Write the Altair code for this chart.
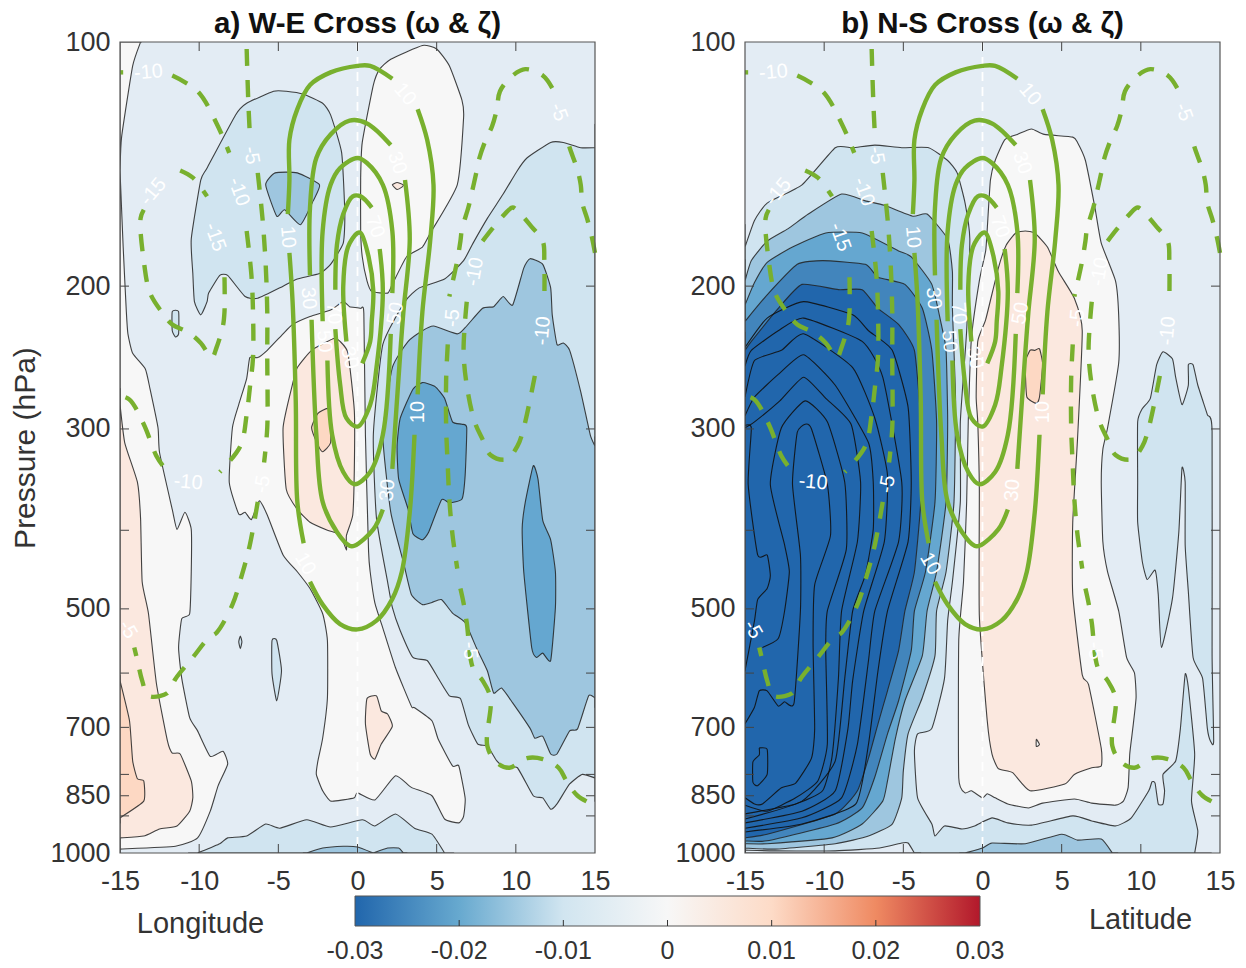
import altair as alt
import pandas as pd

X_TICKS = [-15, -10, -5, 0, 5, 10, 15]
P_TICKS = [100, 200, 300, 400, 500, 600, 700, 800, 850, 900, 1000]
P_LABELS = [100, 200, 300, 500, 700, 850, 1000]
LEVELS = [-0.03, -0.025, -0.02, -0.015, -0.01, -0.005, 0.0, 0.005, 0.01]
COLORS = ["#2166AC", "#4285BC", "#65A7D0", "#9EC6DF", "#D0E4F0", "#E3ECF4", "#F7F7F7", "#FBE8DF", "#FDD8C3"]
CB_TICKS = [-0.03, -0.02, -0.01, 0.0, 0.01, 0.02, 0.03]
CB_TEXT = ["-0.03", "-0.02", "-0.01", "0", "0.01", "0.02", "0.03"]
CB_COLORS = ["#2166AC", "#67A9CF", "#D1E5F0", "#F7F7F7", "#FDDBC7", "#EF8A62", "#B2182B"]
FRAME = [(-15, 15, 100, 1000)]

# ---------- panel a: shading (lon, hPa) ----------
a_left_white = [(-15,100),(-13.7,100),(-14.2,107),(-14.9,131),(-15,144),(-14.8,179),(-14.6,215),(-14.5,229),(-14.2,242),(-13.4,253),(-13.1,268),(-12.6,299),(-12.5,321),(-11.7,377),(-11.4,399),(-10.9,380),(-10.5,399),(-10.5,450),(-10.6,507),(-11.1,514),(-11.3,558),(-11.1,609),(-10.6,681),(-10.1,707),(-9.3,760),(-8.5,749),(-8.2,777),(-8.8,826),(-9.3,888),(-10.1,958),(-11.5,981),(-15,989)]
a_left_orange = [(-15,280),(-14.7,312),(-13.9,349),(-13.7,387),(-13.6,463),(-13.2,507),(-12.7,618),(-12,728),(-11.7,753),(-11.2,755),(-10.5,815),(-10.4,855),(-10.6,888),(-11.4,926),(-12.5,934),(-13.5,953),(-15,958)]
a_left_peach = [(-15,613),(-14.4,687),(-14.2,770),(-13.9,810),(-13.5,815),(-13.5,863),(-15,905)]
a_top_white = [(1.4,108),(2.1,105),(4.1,101),(5,102),(5.8,107),(6.6,118),(6.7,124),(6.3,150),(4.6,172),(4.1,179),(3.1,184),(2.2,199),(1.9,204),(0.9,203),(0.6,197),(0.3,184),(0.2,171),(0.2,147),(0.3,133),(1,113)]
a_top_dot = [(2.2,150),(2.5,149),(2.9,150),(2.8,151),(2.5,152)]
a_nw_blue = [(-5.3,115),(-7,119),(-7.7,123),(-9.5,143),(-9.9,148),(-10.5,175),(-10.4,193),(-10.3,209),(-9.9,217),(-9.5,209),(-9.4,204),(-8.7,194),(-8.2,194),(-7.1,206),(-6.3,207),(-4.7,200),(-3.8,196),(-2.4,193),(-1.7,188),(-0.9,177),(-0.8,163),(-1,137),(-1.7,123),(-2.2,119),(-3.4,116),(-4.5,115)]
a_nw_core = [(-5.8,150),(-5.2,145),(-3.8,145),(-2.4,150),(-2.8,157),(-3.6,168),(-4.6,161),(-5.1,164)]
a_islet1 = [(-11.7,215),(-11.3,215),(-11.3,229),(-11.5,231),(-11.7,227)]
a_islet2 = [(-5.4,547),(-5.1,547),(-4.8,596),(-5.1,649),(-5.4,601)]
a_islet3 = [(-7.4,540),(-7.3,549),(-7.4,560),(-7.5,549)]
a_mid_white = [(-6.8,245),(-6.3,245),(-5.7,240),(-4.7,229),(-4.1,223),(-3,218),(-1.7,214),(-0.9,209),(-0.5,212),(0.2,213),(0.4,216),(0.5,305),(0.7,425),(0.8,450),(1.1,492),(1.6,528),(2.4,591),(3.4,659),(3.6,662),(4.7,687),(5.1,724),(6,781),(6.4,781),(6.8,856),(6.7,901),(6.4,918),(5.5,908),(4.7,850),(3.4,830),(2.4,803),(1.1,860),(0,843),(-0.2,855),(-0.9,860),(-1.7,863),(-2.2,838),(-2.6,800),(-2.5,770),(-2.2,722),(-1.9,644),(-1.9,547),(-2.2,507),(-3,472),(-3.8,450),(-4.7,429),(-5.7,383),(-6.2,368),(-6.7,388),(-7.1,380),(-7.5,382),(-8.1,349),(-7.9,299),(-7.5,280),(-7,260)]
a_mid_orange = [(-1.5,232),(-2.9,240),(-3.8,252),(-4.1,264),(-4.7,299),(-4.5,356),(-3.8,377),(-3,391),(-1.9,400),(-1.1,405),(-0.7,423),(-0.7,406),(-0.3,383),(-0.2,336),(-0.2,285),(-0.6,242),(-1.1,234)]
a_mid_peach = [(-1.9,283),(-2.5,287),(-2.9,299),(-2.5,314),(-2.2,320),(-1.7,312),(-1.7,288)]
a_low_orange = [(0.6,645),(1.2,640),(1.5,668),(1.9,674),(2.2,698),(1.5,734),(1.1,766),(0.8,755),(0.5,693)]
a_east_blue = [(15,135),(14.1,135),(13,133),(12.2,133),(10.7,139),(10.1,144),(9.2,154),(8.2,165),(7.3,177),(6.7,186),(5.5,196),(3.9,201),(3,209),(1.6,236),(1,305),(1.2,387),(1.9,463),(2.2,498),(2.7,532),(3.5,574),(4.4,579),(5.1,609),(5.8,640),(6.5,645),(7,695),(7.6,734),(8.2,738),(8.8,770),(9.4,787),(10.1,785),(11.1,850),(11.7,855),(12.2,883),(12.6,870),(13.4,822),(14.2,800),(15,808)]
a_east_mid = [(6.3,229),(4.8,224),(4.1,227),(3.2,234),(2.2,252),(1.6,305),(2.1,380),(2.9,438),(3.4,480),(4.1,494),(4.7,491),(5.3,487),(6,506),(6.8,520),(7.5,558),(8.2,596),(8.6,635),(9.1,626),(9.8,653),(10.9,702),(11.2,722),(11.7,718),(12.2,755),(12.6,755),(13.4,707),(13.9,703),(14.6,640),(15,644),(15,315),(14.7,305),(14.1,270),(13.4,240),(13,235),(12.6,236),(12.3,217),(12.2,201),(11.7,188),(10.9,185),(10.5,190),(9.8,211),(9.2,206),(8.6,212),(7.9,213),(6.8,225)]
a_east_core1 = [(4.1,263),(4.9,266),(5.5,275),(6,294),(6.6,296),(6.9,299),(6.8,342),(6.6,366),(5.8,370),(5.3,367),(4.5,402),(4.1,411),(3.5,404),(3.2,377),(2.6,346),(2.5,315),(2.7,291),(3.5,268)]
a_east_core2 = [(11.1,333),(11.4,346),(11.7,389),(12.2,411),(12.5,450),(12.5,498),(12.2,579),(11.7,567),(11.3,574),(11,558),(10.5,450),(10.4,398),(10.6,369)]
a_bot_blue = [(-10.1,1000),(-8.7,974),(-8.2,958),(-7,953),(-5.8,921),(-4.9,932),(-3.2,910),(-1.7,929),(0.3,910),(1.1,926),(2.4,895),(3.6,932),(4.7,948),(5.5,1000)]
a_bot_core = [(-3.2,1000),(-2.2,986),(-0.9,981),(0,983),(1,1000),(1.9,986),(2.6,986),(2.9,1000)]

POLYS_A = [(0.0,a_left_white),(0.005,a_left_orange),(0.01,a_left_peach),(0.0,a_top_white),(0.005,a_top_dot),
           (-0.01,a_nw_blue),(-0.015,a_nw_core),(-0.01,a_islet1),(-0.01,a_islet2),(-0.01,a_islet3),
           (0.0,a_mid_white),(0.005,a_mid_orange),(0.01,a_mid_peach),(0.005,a_low_orange),
           (-0.01,a_east_blue),(-0.015,a_east_mid),(-0.02,a_east_core1),(-0.02,a_east_core2),(-0.01,a_bot_blue),(-0.015,a_bot_core)]

# ---------- panel b ----------
b_d0 = [(-15,179),(-14.4,166),(-13.6,158),(-11.4,150),(-9.3,135),(-8.2,135),(-6.8,134),(-5.1,135),(-3.4,135),(-2.2,140),(-1.6,145),(-1.1,158),(-0.8,175),(-1,227),(-1.4,294),(-1.4,369),(-1.9,463),(-2.2,517),(-2.4,609),(-3.2,702),(-4.1,713),(-4.3,749),(-4.1,855),(-3.2,921),(-3,953),(-2.4,926),(-1.3,934),(-0.5,926),(0.6,905),(1.6,918),(3.1,924),(5.7,900),(6.9,913),(8.4,926),(9.4,905),(10.5,838),(10.7,817),(10.9,820),(11.1,870),(11.4,870),(11.5,838),(11.4,800),(12.2,770),(12.5,702),(12.8,602),(13,625),(13.4,755),(13.2,863),(13.6,940),(13.4,1000),(-15,1000)]
b_white = [(3.1,128),(2.2,130),(1.4,132),(0.8,140),(0.5,148),(0.3,170),(0.2,181),(-0.2,197),(-0.7,232),(-0.9,294),(-1,369),(-1.2,463),(-1.5,547),(-1.5,808),(-1.1,843),(-0.7,838),(0,855),(0.3,845),(0.8,855),(1.6,870),(2.9,880),(3.8,868),(5.8,858),(6.9,868),(8.4,873),(8.9,863),(9.2,830),(9.3,755),(9.5,700),(9.7,643),(9.6,600),(9.1,574),(8.6,503),(7.9,450),(7.6,413),(7.5,349),(7.6,318),(7.9,299),(8.6,249),(8.6,217),(8.4,197),(7.5,177),(7.1,160),(6.5,140),(6,133),(5.7,131),(3.9,130)]
b_orange = [(2.7,171),(2.1,172),(1.5,178),(1,190),(0.2,220),(-0.3,234),(-0.4,274),(-0.3,294),(-0.2,356),(-0.2,510),(0.3,687),(0.6,755),(1,787),(1.9,796),(3,838),(5.2,822),(5.8,800),(6.9,785),(7.5,781),(7.5,743),(6.7,620),(6.3,603),(5.7,480),(5.7,391),(6,309),(6.3,227),(5.8,207),(4.8,192),(4.1,179),(3.3,172)]
b_peach = [(3,240),(3.3,240),(3.6,239),(3.8,250),(3.6,274),(3.4,279),(2.8,274),(2.7,255),(2.6,250)]
b_tiny = [(3.4,724),(3.6,735),(3.4,739)]
b_island = [(11.4,241),(12,246),(12.2,259),(12.6,280),(13,265),(13,250),(13.3,250),(13.6,265),(14.2,288),(14.5,302),(14.5,568),(14.6,728),(14.4,728),(14.2,702),(13.9,609),(13.3,574),(13,476),(12.8,417),(12.8,349),(12.6,335),(12.4,402),(12,485),(11.3,558),(11.1,480),(10.9,448),(10.4,460),(10.1,438),(9.8,391),(9.8,349),(9.8,294),(10.1,283),(10.6,275),(11,250)]
b_bot_core = [(-1.1,1000),(0,986),(0.6,972),(2.7,974),(5,948),(6,964),(7.5,961),(8.2,1000)]
b_bot_pale = [(-15,992),(-13.1,994),(-9.3,994),(-6.5,986),(-5.1,972),(-4.7,972),(-4.3,1000),(-15,1000)]
b_9e = [(-15,197),(-14.6,186),(-13.6,176),(-12.3,170),(-11,163),(-8.9,154),(-7.4,157),(-6.2,159),(-4.4,164),(-3.5,163),(-2.2,175),(-1.9,192),(-1.9,213),(-1.7,277),(-1.8,369),(-2.3,450),(-2.9,503),(-3,571),(-3.8,643),(-4.7,713),(-5,792),(-5.1,855),(-5.7,921),(-7.2,953),(-9.3,974),(-13.1,989),(-15,986)]
b_65 = [(-15,211),(-14.4,198),(-13.6,187),(-12,179),(-9.9,172),(-7.6,172),(-5.3,181),(-4.5,184),(-3.2,199),(-2.6,223),(-2.3,240),(-2.2,294),(-2.3,369),(-2.9,450),(-3.5,503),(-3.8,571),(-4.9,649),(-5.5,722),(-6,815),(-6.3,863),(-7.6,921),(-9.5,958),(-13.6,974),(-15,974)]
b_42 = [(-15,221),(-13.6,205),(-11.7,188),(-10.1,186),(-7.4,188),(-6.6,195),(-4.9,199),(-3.8,213),(-3.2,240),(-2.9,294),(-3,369),(-3.6,450),(-4.3,503),(-4.5,563),(-5.3,649),(-6,713),(-6.8,806),(-7.6,880),(-9.3,921),(-13.6,966),(-15,966)]
b_21 = [(-15,240),(-14.6,234),(-12.9,213),(-11.4,199),(-9.1,202),(-7.6,202),(-6.6,213),(-5.3,223),(-4.3,240),(-3.9,294),(-3.9,369),(-4.3,450),(-4.9,503),(-5.3,563),(-6,631),(-6.6,693),(-7.2,764),(-7.9,838),(-9.3,895),(-13.6,948),(-15,958)]

POLYS_B = [(-0.01,b_d0),(0.0,b_white),(0.005,b_orange),(0.01,b_peach),(0.0,b_tiny),(-0.01,b_island),
           (-0.015,b_bot_core),(-0.005,b_bot_pale),(-0.015,b_9e),(-0.02,b_65),(-0.025,b_42),(-0.03,b_21)]

c_h = [(-15,238),(-13.6,219),(-11.3,209),(-8.2,217),(-7.2,227),(-5.7,240),(-4.7,282),(-4.5,349),(-4.7,413),(-6,503),(-6.6,596),(-7.2,734),(-8,870),(-11.4,921),(-15,942)]
c_g = [(-15,251),(-14.6,240),(-12.9,227),(-11.3,219),(-7.6,234),(-6.3,259),(-5.1,349),(-5.3,413),(-6.8,503),(-7.2,579),(-7.9,734),(-8.9,855),(-11.4,905),(-15,932)]
c_f = [(-15,274),(-14.4,247),(-12.7,240),(-11.3,229),(-8.2,252),(-6.8,291),(-6,342),(-6.2,413),(-7.5,503),(-8.2,613),(-8.5,703),(-9.3,838),(-11.4,888),(-15,918)]
c_e = [(-15,289),(-14.4,274),(-12.9,257),(-11.3,243),(-9.3,265),(-7.2,312),(-6.9,349),(-6.9,399),(-7.4,454),(-8.2,503),(-8.7,609),(-9.3,770),(-11.4,863),(-15,908)]
c_d = [(-15,299),(-14.4,294),(-12.8,277),(-11.3,259),(-9.9,275),(-8.3,296),(-7.7,349),(-7.9,413),(-8.9,503),(-9.1,609),(-9.5,760),(-10.1,838),(-11.8,870),(-15,895)]
c_b = [(-13.9,558),(-12.9,544),(-12.5,503),(-12.2,450),(-12.5,417),(-13.4,351),(-12.7,299),(-11.2,277),(-9.8,294),(-8.7,349),(-8.6,422),(-9.8,503),(-9.9,563),(-9.8,734),(-10.4,815),(-11.8,855),(-13.6,888),(-15,873)]
c_a = [(-15,693),(-14.4,661),(-14.1,631),(-13.6,631),(-12.9,659),(-12.5,651),(-11.9,653),(-11.5,503),(-11.5,429),(-12,351),(-11.7,303),(-11.2,296),(-10.8,300),(-9.8,351),(-9.6,406),(-10.6,467),(-10.7,552),(-10.6,703),(-10.8,764),(-11.8,820),(-12.7,831),(-13.9,870),(-14.4,870),(-15,855)]
c_c = [(-15,297),(-14.6,299),(-14.8,351),(-14.2,429),(-13.6,429),(-13.4,455),(-13.6,472),(-14.2,487),(-14.4,517),(-15,596)]
c_ring = [(-14.1,742),(-13.6,745),(-13.6,800),(-14.2,826),(-14.5,818),(-14.5,772),(-14.1,757),(-14.1,742)]
LINES_B = [c_h, c_g, c_f, c_e, c_d, c_b, c_a, c_c, c_ring]

# ---------- green contours, same in both panels ----------
SOLID = [
 [(-4.4,163),(-4.3,148),(-4.3,132),(-3.8,121),(-3,113),(-1.7,109),(0,107),(0.8,107),(2.2,111)],
 [(3.8,121),(4.4,132),(4.8,150),(4.6,175),(4.1,215),(3.8,272)],
 [(3.6,305),(3.3,380),(2.8,450),(2.2,486),(1.2,517),(0,530),(-1.1,522),(-2.2,494),(-3,463)],
 [(-3.4,415),(-3.8,369),(-3.9,277),(-4.1,209),(-4.3,182)],
 [(-3,194),(-3,160),(-2.6,139),(-1.7,130),(-0.5,125),(0.6,126),(2.1,134)],
 [(3,148),(3.3,175),(2.9,215),(2.7,242),(2.2,336)],
 [(1.6,377),(1,399),(-0.2,418),(-0.5,418),(-1.3,402),(-2.2,369),(-2.6,305),(-2.9,220)],
 [(-2.2,221),(-2.2,171),(-1.7,150),(-1.1,143),(0,139),(0.6,141),(1.6,150),(2.2,171),(2.2,204)],
 [(2.1,229),(1.6,305),(0.8,339),(-0.2,351),(-0.9,339),(-1.6,305),(-1.9,247)],
 [(-1.4,202),(-1.3,178),(-0.9,163),(-0.3,155),(0.2,155),(0.9,160)],
 [(1.4,180),(1.6,203),(1.2,252),(0.8,280),(0,298),(-0.7,291),(-1.1,264),(-1.4,226)],
 [(-0.7,234),(-0.9,200),(-0.6,179),(0,172),(0.2,172),(0.7,184),(1,203),(0.9,221),(0.8,234),(0.3,249)],
]
DASHED = [
 [(-15,109),(-14.8,109)],
 [(-11.7,110),(-10.1,115),(-8.9,126),(-8.1,137)],
 [(-7,171),(-6.7,194),(-6.6,215),(-6.6,245),(-6.8,267),(-7,288),(-7.4,315),(-8.7,339)],
 [(-12.3,333),(-12.7,324),(-13.5,296),(-14.4,276),(-15,273)],
 [(-11.2,144),(-10.4,147),(-9.5,155)],
 [(-8.4,195),(-8.4,215),(-8.5,224),(-8.9,238),(-9.2,245),(-9.9,235),(-10.7,228),(-11.7,223),(-12.3,216),(-13.1,204),(-13.5,186),(-13.7,165),(-13.5,161)],
 [(-7,102),(-6.9,118),(-6.8,130)],
 [(-6.3,145),(-6,165),(-5.8,188),(-5.7,215),(-5.7,245),(-5.7,299),(-5.9,330)],
 [(-6.3,369),(-6.8,417),(-7.3,454),(-7.9,494),(-8.9,535),(-9.4,543),(-10.4,574),(-11.5,610),(-12,635),(-13.2,640),(-13.6,613),(-13.9,579),(-14.1,558)],
 [(15,182),(14.8,174),(14.5,165),(14.2,158),(14.1,150),(13.9,144),(13.4,135),(13.2,131)],
 [(12.3,114),(11.7,110),(10.6,108),(9.8,110),(9,115),(8.8,121),(8.5,127),(8.1,132),(7.7,139),(7.5,145),(7.2,154),(7,160),(6.6,170),(6.5,176),(6.3,186),(6.1,194),(5.8,206)],
 [(5.7,236),(5.6,260),(5.6,299),(5.7,333),(5.8,366),(6,405),(6.3,446)],
 [(6.5,472),(6.7,492),(6.9,520),(7.3,592),(7.9,613),(8.4,644),(8.2,738),(8.8,774),(9.6,785),(10.7,764),(11.7,766),(12.7,785),(13.2,815),(13.9,850),(14.8,870)],
 [(7.9,176),(8.5,170),(9.3,163),(9.8,160),(10.3,163),(11,169),(11.7,176),(11.8,186),(11.8,209)],
 [(11.2,258),(10.5,299),(10.1,315),(9.4,327),(8.4,323),(7.9,309),(7.4,294),(6.9,265),(6.7,240),(6.9,209)],
]
LAB_LON = [-13.2,-12.9,-6.7,-7.5,-9,-4.4,-3.1,3,2.5,1.1,12.7,7.4,6,2.4,3.8,11.7,1.9,-2.1,-0.5,-1.5,-10.7,-6,-3.3,-14.5,7.1]
LAB_P = [109,153,138,153,174,174,207,116,141,169,122,192,219,216,286,227,357,234,245,216,349,351,440,530,563]
LAB_TXT = ["-10","-15","-5","-10","-15","10","30","10","30","70","-5","-10","-5","50","10","-10","30","50","30","70","-10","-5","10","-5","-5"]
LAB_ANG = [355,310,80,70,70,85,85,50,70,70,70,280,275,280,270,275,275,85,75,85,5,280,60,60,85]


def long_table(shapes, with_level=True):
    rows = []
    for k, item in enumerate(shapes):
        level, pts = item if with_level else (None, item)
        idx = 0
        for lon, p in pts:
            # vertices on the frame are repeated so the spline keeps a sharp corner there
            on_edge = with_level and (abs(lon) == 15 or p in (100, 1000))
            for _ in range(3 if on_edge else 1):
                rows.append({"poly": k, "idx": idx, "lon": lon, "p": p, "level": level})
                idx += 1
    return pd.DataFrame(rows)


FONT = "Liberation Sans"
GREEN = "#78B02E"
x_scale = alt.Scale(domain=[-15, 15], nice=False, zero=False)
y_scale = alt.Scale(type="log", domain=[100, 1000], reverse=True, nice=False)
W, H = 475, 811


def panel(polys, inner, x_title, title_x, title_y, y_title):
    x_axis = alt.Axis(
        values=X_TICKS, tickSize=0, domain=False, grid=False, labelFontSize=27, labelFont=FONT,
        labelColor="#333333", labelPadding=15, labelFlush=False, labelOverlap=False,
        titleFontSize=29, titleFont=FONT, titleFontWeight="normal",
        titleColor="#333333", titleX=title_x, titleY=title_y, titleBaseline="middle", labelExpr="'' + datum.value")
    y_axis = alt.Axis(
        values=P_LABELS, tickSize=0, domain=False, grid=False, labelFontSize=27, labelFont=FONT,
        labelColor="#333333", labelPadding=10, labelOverlap=False, titleFontSize=30, titleFont=FONT,
        titleFontWeight="normal", titleColor="#333333", titlePadding=9, labelExpr="'' + datum.value")
    X = alt.X("lon:Q", scale=x_scale, axis=x_axis, title=x_title)
    Y = alt.Y("p:Q", scale=y_scale, axis=y_axis, title=y_title)
    frame = pd.DataFrame(FRAME, columns=["a", "b", "c", "d"])
    shade = alt.Chart(long_table(polys)).mark_line(
        interpolate="cardinal-closed", tension=0.5, clip=True,
        stroke="#222222", strokeWidth=1.1, strokeOpacity=0.85
    ).encode(
        x=X, y=Y, order="idx:Q", detail="poly:N",
        fill=alt.Fill("level:O", scale=alt.Scale(domain=LEVELS, range=COLORS), legend=None),
    )
    layers = [shade]
    if inner:
        layers.append(alt.Chart(long_table(inner, False)).mark_line(
            interpolate="cardinal", tension=0.5, clip=True, stroke="#111111", strokeWidth=1.1, opacity=0.9
        ).encode(x=X, y=Y, order="idx:Q", detail="poly:N"))
    layers.append(alt.Chart(pd.DataFrame({"lon": [0]})).mark_rule(
        color="white", strokeWidth=1.8, strokeDash=[9, 6]
    ).encode(x=X))
    layers.append(alt.Chart(long_table(SOLID, False)).mark_line(
        color=GREEN, strokeWidth=4.4, strokeCap="butt", interpolate="catmull-rom"
    ).encode(x=X, y=Y, order="idx:Q", detail="poly:N"))
    layers.append(alt.Chart(long_table(DASHED, False)).mark_line(
        color=GREEN, strokeWidth=4.4, strokeDash=[17, 14], strokeCap="butt", interpolate="catmull-rom"
    ).encode(x=X, y=Y, order="idx:Q", detail="poly:N"))
    labels = pd.DataFrame({"lon": LAB_LON, "p": LAB_P, "t": LAB_TXT, "a": LAB_ANG})
    layers.append(alt.Chart(labels).mark_text(
        color="white", font=FONT, fontSize=20, baseline="middle", align="center"
    ).encode(x=X, y=Y, text="t:N", angle=alt.Angle("a:Q", scale=None)))
    xt = pd.DataFrame({"lon": X_TICKS[1:-1]})
    pt = pd.DataFrame({"p": P_TICKS[1:-1]})
    layers.append(alt.Chart(xt).mark_rule(color="#444444", strokeWidth=1).encode(x=X, y=alt.value(0), y2=alt.value(9)))
    layers.append(alt.Chart(xt).mark_rule(color="#444444", strokeWidth=1).encode(x=X, y=alt.value(H - 9), y2=alt.value(H)))
    layers.append(alt.Chart(pt).mark_rule(color="#444444", strokeWidth=1).encode(y=Y, x=alt.value(0), x2=alt.value(9)))
    layers.append(alt.Chart(pt).mark_rule(color="#444444", strokeWidth=1).encode(y=Y, x=alt.value(W - 9), x2=alt.value(W)))
    layers.append(alt.Chart(frame).mark_rect(fillOpacity=0, stroke="#555555", strokeWidth=1.2).encode(
        x=alt.X("a:Q", scale=x_scale, axis=x_axis, title=x_title), x2="b:Q",
        y=alt.Y("c:Q", scale=y_scale, axis=y_axis, title=y_title), y2="d:Q"))
    return alt.layer(*layers).properties(width=W, height=H)


def colorbar():
    bar_x = alt.Scale(domain=[-0.03, 0.03], range=[235, 860], nice=False, zero=False)
    stops = [{"color": c, "offset": (v + 0.03) / 0.06} for c, v in zip(CB_COLORS, CB_TICKS)]
    bar = alt.Chart(pd.DataFrame({"a": [CB_TICKS[0]], "b": [CB_TICKS[-1]]})).mark_rect(
        fill={"gradient": "linear", "x1": 0, "x2": 1, "y1": 0, "y2": 0, "stops": stops},
        stroke="#555555", strokeWidth=1,
    ).encode(x=alt.X("a:Q", scale=bar_x, axis=None), x2="b:Q", y=alt.value(854), y2=alt.value(884))
    d = pd.DataFrame({"v": CB_TICKS, "t": CB_TEXT})
    ticks = alt.Chart(d.iloc[1:-1]).mark_rule(color="#333333", strokeWidth=1).encode(
        x=alt.X("v:Q", scale=bar_x, axis=None), y=alt.value(878), y2=alt.value(884))
    text = alt.Chart(d).mark_text(font=FONT, fontSize=25, color="#333333", baseline="middle").encode(
        x=alt.X("v:Q", scale=bar_x, axis=None), y=alt.value(909), text="t:N")
    return alt.layer(bar, ticks, text)


def titled(ch, text):
    return ch.properties(title=alt.TitleParams(
        text=text, font=FONT, fontSize=29.5, fontWeight="bold", color="#111111",
        anchor="middle", offset=-11, frame="group"))


left = alt.layer(
    panel(POLYS_A, None, "Longitude", 80, 70, "Pressure (hPa)"), colorbar()
).resolve_scale(x="independent")
left = titled(left, "a) W-E Cross (\u03c9 & \u03b6)")
right = titled(panel(POLYS_B, LINES_B, "Latitude", 395, 66, None), "b) N-S Cross (\u03c9 & \u03b6)")

chart = alt.hconcat(left, right, spacing=150, bounds="flush").properties(
    padding={"left": 2, "top": 0, "right": 0, "bottom": 0}
).configure_view(stroke=None, fill="#E3ECF4")

chart.save("out.html", embed_options={"renderer": "svg", "actions": False})
